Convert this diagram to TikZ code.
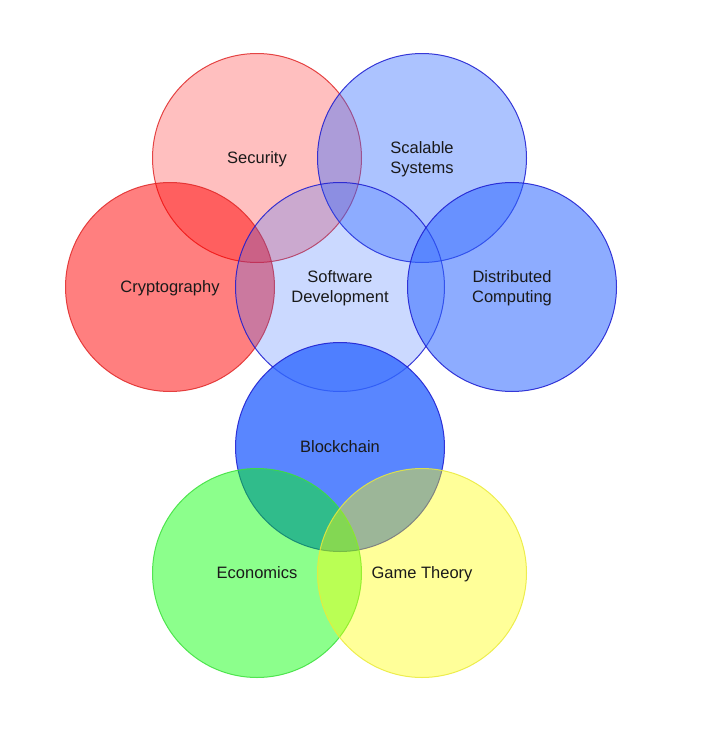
\documentclass[tikz,border=0pt]{standalone}
\usepackage{fontspec}
\setmainfont{Liberation Sans}
\definecolor{redfill}{HTML}{FF0000}
\definecolor{redline}{HTML}{E02828}
\definecolor{bluefill}{HTML}{3068FF}
\definecolor{blueline}{HTML}{1A1AD0}
\definecolor{greenfill}{HTML}{00FF00}
\definecolor{greenline}{HTML}{3CE03C}
\definecolor{yellowfill}{HTML}{FFFF00}
\definecolor{yellowline}{HTML}{EAEA3A}
\definecolor{labeltext}{HTML}{1A1A1A}

\begin{document}
\begin{tikzpicture}[x=1pt, y=-1pt,
  topic/.style={circle, minimum size=209pt, inner sep=0pt, align=center,
    line width=1pt, draw opacity=0.85, text=labeltext, text opacity=1,
    font=\fontsize{16.5}{20}\selectfont, text depth=-4pt}]
\useasboundingbox (0,0) rectangle (702,736);

\node[topic, draw=redline, fill=redfill, fill opacity=0.25] (Sec) at (257,158) {Security};
\node[topic, draw=blueline, fill=bluefill, fill opacity=0.4] (Scal) at (422,158) {Scalable\\Systems};
\node[topic, draw=redline, fill=redfill, fill opacity=0.5] (Cry) at (170,287) {Cryptography};
\node[topic, draw=blueline, fill=bluefill, fill opacity=0.25] (Soft) at (340,287) {Software\\Development};
\node[topic, draw=blueline, fill=bluefill, fill opacity=0.55] (Dist) at (512,287) {Distributed\\Computing};
\node[topic, draw=blueline, fill=bluefill, fill opacity=0.8] (Block) at (340,447) {Blockchain};
\node[topic, draw=greenline, fill=greenfill, fill opacity=0.45] (Eco) at (257,573) {Economics};
\node[topic, draw=yellowline, fill=yellowfill, fill opacity=0.4] (Game) at (422,573) {Game Theory};
\end{tikzpicture}
\end{document}
